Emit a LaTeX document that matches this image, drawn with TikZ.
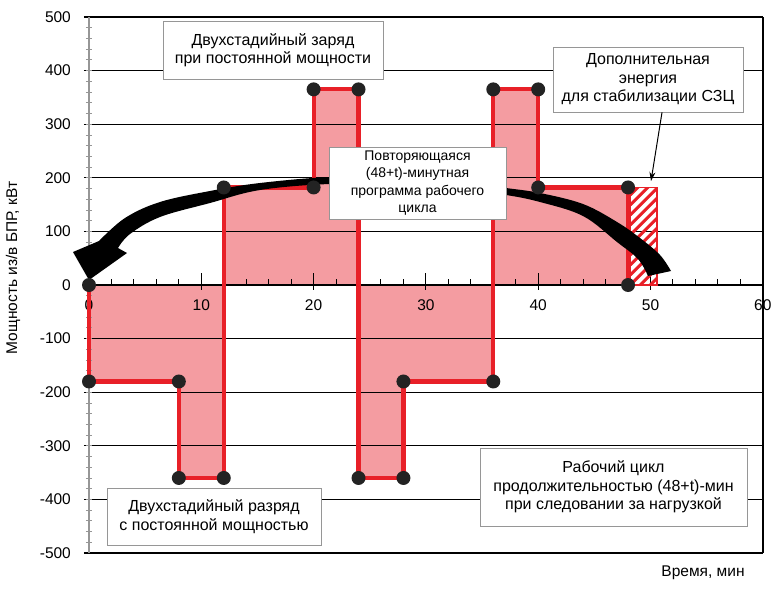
\documentclass[tikz,border=0pt]{standalone}
\usepackage{fontspec}
\setmainfont{Liberation Sans}
\usetikzlibrary{arrows.meta,positioning}

\definecolor{cyclered}{RGB}{232,32,40}
\definecolor{cyclepink}{RGB}{244,156,161}
\definecolor{boxgrey}{RGB}{150,150,150}
\definecolor{dotgrey}{RGB}{35,35,35}
\definecolor{axisgrey}{RGB}{150,150,150}

\tikzset{
    note/.style={draw=boxgrey, line width=0.8pt, fill=white, align=center,
        inner sep=2pt, font=\fontsize{16}{18.5}\selectfont},
    dot/.style={circle, fill=dotgrey, inner sep=0pt, minimum size=14pt},
    profile/.style={cyclered, line width=4.2pt, line join=miter},
    gridline/.style={black, line width=1.3pt},
    ticklabel/.style={font=\fontsize{15.5}{18}\selectfont},
    stripe/.style={cyclered, line width=3pt}
}

\begin{document}
\begin{tikzpicture}[x=1pt,y=-1pt]
    \useasboundingbox (0,0) rectangle (778,590);
    % chart in data units (minutes, kW)
    \begin{scope}[shift={(89,285)}, x=11.23pt, y=0.536pt]
        \fill[cyclepink] (0,0) -- (0,-180) -- (8,-180) -- (8,-360) -- (12,-360)
            -- (12,182) -- (20,182) -- (20,365) -- (24,365) -- (24,-360)
            -- (28,-360) -- (28,-180) -- (36,-180) -- (36,365) -- (40,365)
            -- (40,182) -- (48,182) -- (48,0) -- cycle;
        \foreach \v in {-500,-400,...,500}
            \draw[gridline] (-0.45,\v) -- (60,\v);
        \draw[black, line width=2.5pt] (0,500) -- (60,500);
        \draw[black, line width=2.5pt] (0,-500) -- (60,-500);
        \draw[black, line width=2pt] (60,-500) -- (60,500);
        % axes
        \draw[axisgrey, line width=1.3pt] (0,-500) -- (0,500);
        \foreach \v in {-480,-460,...,480}
            \draw[axisgrey, line width=0.8pt] (-0.27,\v) -- (0.27,\v);
        \foreach \t in {2,4,...,58}
            \draw[black, line width=1pt] (\t,0) -- (\t,11);
        \foreach \t in {10,20,...,50}
            \draw[black, line width=1pt] (\t,-9) -- (\t,22);
        \foreach \v in {-500,-400,...,500}
            \node[ticklabel, anchor=east] at (-1.3,\v) {\v};
        \foreach \t in {0,10,...,60}
            \node[ticklabel] at (\t,-38) {\t};
        % extra energy
        \begin{scope}
            \clip (48.2,0) rectangle (50.6,182);
            \foreach \k in {-4,...,10}
                \draw[stripe] (48.2,\k*18.66) -- ++(3,62.9);
        \end{scope}
        \draw[cyclered, line width=1.5pt] (48.2,0) rectangle (50.6,182);
        \draw[profile] (0,0) -- (0,-180) -- (8,-180) -- (8,-360) -- (12,-360)
            -- (12,182) -- (20,182) -- (20,365) -- (24,365) -- (24,-360)
            -- (28,-360) -- (28,-180) -- (36,-180) -- (36,365) -- (40,365)
            -- (40,182) -- (48,182) -- (48,0);
    \end{scope}

    % repeat arrow
    \fill[black] (89,280) -- (73,252) -- (99,241)
        -- plot[smooth, tension=0.6] coordinates {(99,241) (125,218) (160,202)
            (210,191) (260,183) (330,177) (400,177) (470,183) (506,188) (540,193)
            (583,204) (617,222) (640,238) (660,255) (671,271)}
        -- (648,276)
        -- plot[smooth, tension=0.6] coordinates {(648,276) (638,259) (617,242)
            (583,216) (540,202) (506,195) (470,191) (400,185) (330,184) (260,190)
            (210,203) (160,217) (130,234) (118,248)}
        -- (127,253) -- cycle;

    \begin{scope}[shift={(89,285)}, x=11.23pt, y=0.536pt]
        \foreach \x/\y in {0/0, 0/-180, 8/-180, 8/-360, 12/-360, 12/182, 20/182,
            20/365, 24/365, 24/-360, 28/-360, 28/-180, 36/-180, 36/365, 40/365,
            40/182, 48/182, 48/0}
            \node[dot] at (\x,\y) {};
    \end{scope}

    \node[note, minimum width=220pt, minimum height=58pt] (charge) at (273,50)
        {Двухстадийный заряд\\при постоянной мощности};
    \node[note, minimum width=177pt, minimum height=72pt,
        font=\fontsize{14}{17.5}\selectfont] (repeat) at (417.5,183)
        {Повторяющаяся\\(48+t)-минутная\\программа рабочего\\цикла};
    \node[note, minimum width=190pt, minimum height=65pt] (extra) at (648,79.5)
        {Дополнительная\\энергия\\для стабилизации СЗЦ};
    \node[note, minimum width=214pt, minimum height=57pt] (discharge) at (214,516.5)
        {Двухстадийный разряд\\с постоянной мощностью};
    \node[note, minimum width=267pt, minimum height=78pt] (cycle) at (613.5,487)
        {Рабочий цикл\\продолжительностью (48+t)-мин\\при следовании за нагрузкой};

    \coordinate (hatchtop) at (651,181);
    \draw[-{Stealth[length=9pt,width=6pt]}, line width=1pt]
        ([xshift=14pt]extra.south) -- (hatchtop);

    \node[ticklabel, rotate=90] (ylabel) at (13,268) {Мощность из/в БПР, кВт};
    \node[ticklabel] (xlabel) at (703,573) {Время, мин};
\end{tikzpicture}
\end{document}
